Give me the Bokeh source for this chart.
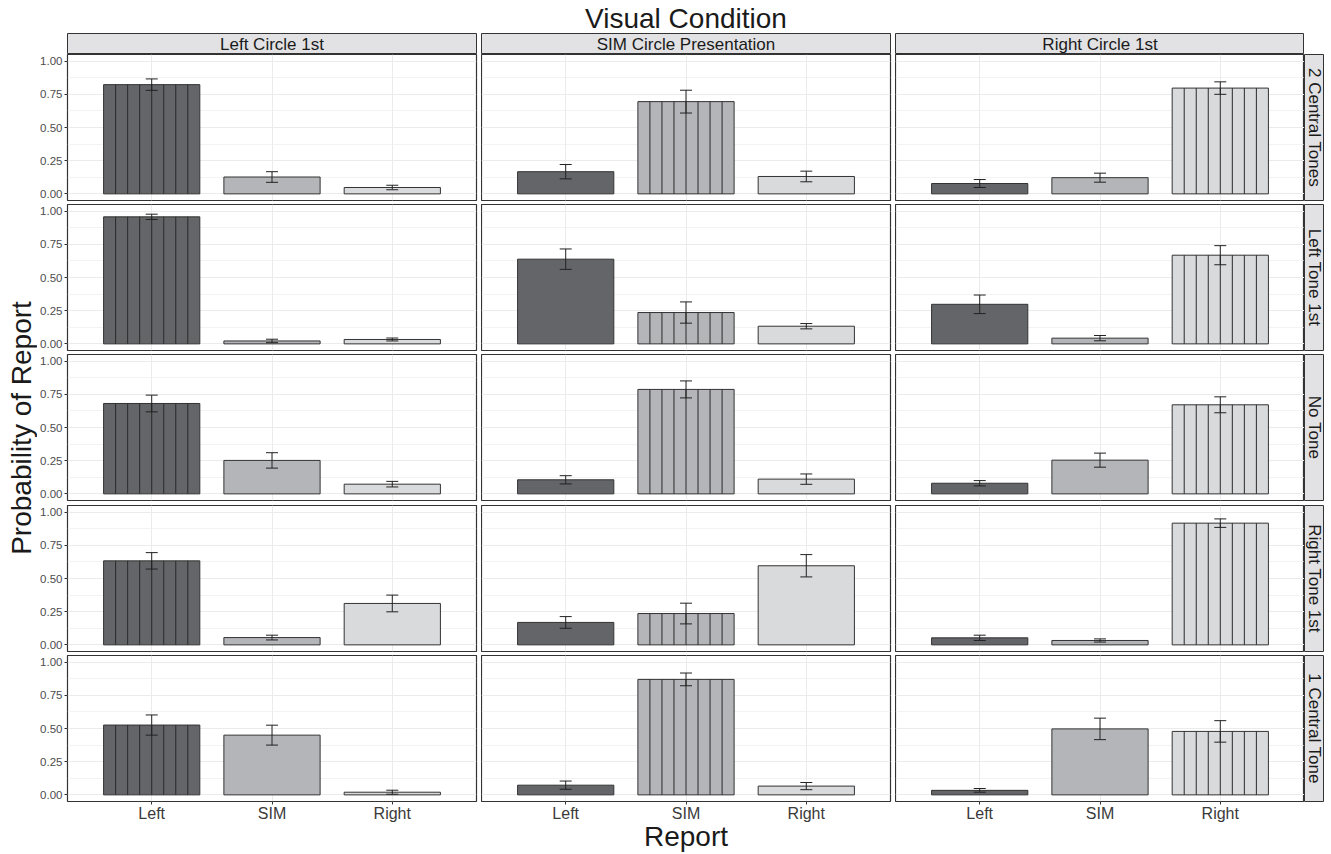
import math
from bokeh.plotting import figure
from bokeh.layouts import row, column, Spacer
from bokeh.models import (FactorRange, Range1d, FixedTicker, CategoricalTicker, Grid,
                          LinearAxis, CategoricalAxis, Whisker, TeeHead, ColumnDataSource,
                          NumeralTickFormatter)
from bokeh.transform import dodge
from bokeh.core.properties import value
from bokeh.embed import file_html
from bokeh.resources import INLINE

# ---------------- data ----------------
reports = ["Left", "SIM", "Right"]
visual_conditions = ["Left Circle 1st", "SIM Circle Presentation", "Right Circle 1st"]
auditory_conditions = ["2 Central Tones", "Left Tone 1st", "No Tone", "Right Tone 1st", "1 Central Tone"]

# one triple (Left, SIM, Right) per visual condition
two_central_tones_mean = [[0.823, 0.127, 0.048], [0.167, 0.695, 0.131], [0.078, 0.122, 0.797]]
two_central_tones_err = [[0.043, 0.040, 0.017], [0.054, 0.086, 0.040], [0.030, 0.034, 0.047]]
left_tone_first_mean = [[0.957, 0.022, 0.033], [0.638, 0.236, 0.133], [0.298, 0.043, 0.668]]
left_tone_first_err = [[0.020, 0.013, 0.011], [0.077, 0.080, 0.020], [0.070, 0.020, 0.072]]
no_tone_mean = [[0.681, 0.252, 0.073], [0.106, 0.787, 0.111], [0.080, 0.254, 0.671]]
no_tone_err = [[0.063, 0.058, 0.021], [0.031, 0.064, 0.039], [0.020, 0.053, 0.060]]
right_tone_first_mean = [[0.633, 0.055, 0.312], [0.169, 0.236, 0.596], [0.053, 0.033, 0.917]]
right_tone_first_err = [[0.062, 0.018, 0.063], [0.044, 0.078, 0.084], [0.020, 0.012, 0.032]]
one_central_tone_mean = [[0.526, 0.450, 0.020], [0.073, 0.870, 0.066], [0.034, 0.497, 0.478]]
one_central_tone_err = [[0.076, 0.075, 0.015], [0.031, 0.048, 0.027], [0.014, 0.081, 0.081]]

y_ticks = [0.0, 0.25, 0.5, 0.75, 1.0]
y_minor = [0.125, 0.375, 0.625, 0.875]

row_means = [two_central_tones_mean, left_tone_first_mean, no_tone_mean, right_tone_first_mean, one_central_tone_mean]
row_errs = [two_central_tones_err, left_tone_first_err, no_tone_err, right_tone_first_err, one_central_tone_err]

# ---------------- style ----------------
FONT_NAME = "Liberation Sans"
FONT = value(FONT_NAME)
bar_colors = ["#646569", "#B4B5B8", "#D9DADC"]
edge = "#333333"
strip_fill = "#E2E2E4"
grid_col = "#EBEBEB"
stripe_offsets = [-0.3, -0.2, -0.1, 0.0, 0.1, 0.2, 0.3]

YLAB_W = 37          # from the page's left edge to the tick labels
TITLE_H = 33         # from the page's top edge to the strips
FRAME_W = 409
FRAME_H = 146
LEFT_B = 30
COL_GAP = 5
ROW_GAPS = [4, 4, 5, 4]
BOTTOM_B = 53
STRIP_W = 20


def drop_default_grids(p):
    p.center = [m for m in p.center if not isinstance(m, Grid)]


def make_panel(r, c):
    left = c == 0
    bottom = r == 4
    bl = LEFT_B if left else 0
    br = COL_GAP if c < 2 else 0
    bb = BOTTOM_B if bottom else ROW_GAPS[r]
    p = figure(width=bl + FRAME_W + br, height=FRAME_H + bb,
               x_range=FactorRange(*reports, range_padding=0.2, range_padding_units="absolute"),
               y_range=Range1d(-0.05, 1.05),
               x_axis_location=None, y_axis_location=None,
               output_backend="svg", toolbar_location=None,
               min_border=0, min_border_left=bl, min_border_right=br,
               min_border_top=0, min_border_bottom=bb)
    drop_default_grids(p)
    p.background_fill_color = "white"
    p.border_fill_color = "white"
    p.outline_line_color = edge
    p.outline_line_width = 1.2

    yt = FixedTicker(ticks=y_ticks, minor_ticks=y_minor)
    p.add_layout(Grid(dimension=1, ticker=yt, grid_line_color=grid_col, grid_line_width=1,
                      minor_grid_line_color=grid_col, minor_grid_line_width=0.6))
    p.add_layout(Grid(dimension=0, ticker=CategoricalTicker(), grid_line_color=grid_col,
                      grid_line_width=1))

    if left:
        ax = LinearAxis(ticker=yt, formatter=NumeralTickFormatter(format="0.00"))
        ax.axis_line_color = None
        ax.major_tick_in = 0
        ax.major_tick_out = 3
        ax.major_tick_line_color = edge
        ax.minor_tick_line_color = None
        ax.major_label_text_font = FONT_NAME
        ax.major_label_text_font_size = "11.5px"
        ax.major_label_text_color = "#4D4D4D"
        ax.major_label_standoff = 1
        p.add_layout(ax, "left")
    if bottom:
        ax = CategoricalAxis()
        ax.axis_line_color = None
        ax.major_tick_in = 0
        ax.major_tick_out = 3
        ax.major_tick_line_color = edge
        ax.minor_tick_line_color = None
        ax.major_label_text_font = FONT_NAME
        ax.major_label_text_font_size = "16px"
        ax.major_label_text_color = "#3A3A3A"
        ax.major_label_standoff = 0
        if c == 1:
            ax.axis_label = "Report"
            ax.axis_label_text_font = FONT_NAME
            ax.axis_label_text_font_size = "28px"
            ax.axis_label_text_font_style = "normal"
            ax.axis_label_text_color = "#1A1A1A"
            ax.axis_label_standoff = -4
        p.add_layout(ax, "below")

    means = row_means[r][c]
    errs = row_errs[r][c]
    src = ColumnDataSource(dict(
        report=reports, mean=means,
        upper=[m + e for m, e in zip(means, errs)],
        lower=[m - e for m, e in zip(means, errs)],
        color=bar_colors))
    p.vbar(x="report", top="mean", bottom=0, width=0.8, fill_color="color",
           line_color=edge, line_width=1, source=src)

    # vertical stripe pattern on the bar congruent with the visual condition
    stripe_src = ColumnDataSource(dict(report=[reports[c]], top=[means[c]]))
    for off in stripe_offsets:
        xs = dodge("report", off, range=p.x_range)
        p.segment(x0=xs, y0=0, x1=xs, y1="top", source=stripe_src,
                  line_color="#2A2A2A", line_width=1)

    w = Whisker(base="report", upper="upper", lower="lower", source=src,
                line_color="#222222", line_width=1, level="overlay",
                upper_head=TeeHead(size=12, line_color="#222222", line_width=1),
                lower_head=TeeHead(size=12, line_color="#222222", line_width=1))
    p.add_layout(w)
    return p


def make_text_fig(text, width, height, x, y, angle, size,
                  fill=None, outline=None, br=0, bb=0, color="#1A1A1A"):
    f = figure(width=width, height=height, x_range=Range1d(0, 1), y_range=Range1d(0, 1),
               x_axis_location=None, y_axis_location=None,
               output_backend="svg", toolbar_location=None,
               min_border=0, min_border_left=0, min_border_right=br,
               min_border_top=0, min_border_bottom=bb)
    drop_default_grids(f)
    f.border_fill_color = "white"
    f.background_fill_color = fill if fill else "white"
    f.outline_line_color = outline
    f.text(x=[x], y=[y], text=[text], angle=angle, text_align="center", text_baseline="middle",
           text_font=FONT, text_font_size=size, text_color=color)
    return f


lead_w = YLAB_W + LEFT_B
total_panels_w = 3 * FRAME_W + 2 * COL_GAP

title_fig = make_text_fig("Visual Condition", total_panels_w, TITLE_H, 0.5, 0.445, 0, "28px")
title_row = row(Spacer(width=lead_w, height=TITLE_H), title_fig)

strips = []
for c, vc in enumerate(visual_conditions):
    br = COL_GAP if c < 2 else 0
    strips.append(make_text_fig(vc, FRAME_W + br, 21, 0.5, 0.5, 0, "17px",
                                fill=strip_fill, outline=edge, br=br))
strip_row = row(Spacer(width=lead_w, height=21), *strips)

panel_rows = []
for r, ac in enumerate(auditory_conditions):
    bb = BOTTOM_B if r == 4 else ROW_GAPS[r]
    figs = [make_panel(r, c) for c in range(3)]
    rs = make_text_fig(ac, STRIP_W, FRAME_H + bb, 0.5, 0.5, -math.pi / 2, "17px",
                       fill=strip_fill, outline=edge, bb=bb)
    panel_rows.append(row(*figs, rs))

panels_h = 5 * FRAME_H + sum(ROW_GAPS) + BOTTOM_B
ylab_y = 1 - (5 * FRAME_H + sum(ROW_GAPS)) / 2 / panels_h
ylabel_fig = make_text_fig("Probability of Report", YLAB_W, panels_h, 21 / YLAB_W, ylab_y,
                           math.pi / 2, "28px")
middle = row(ylabel_fig, column(*panel_rows))

layout = column(title_row, strip_row, middle)

open("out.html", "w").write(file_html(layout, INLINE))
